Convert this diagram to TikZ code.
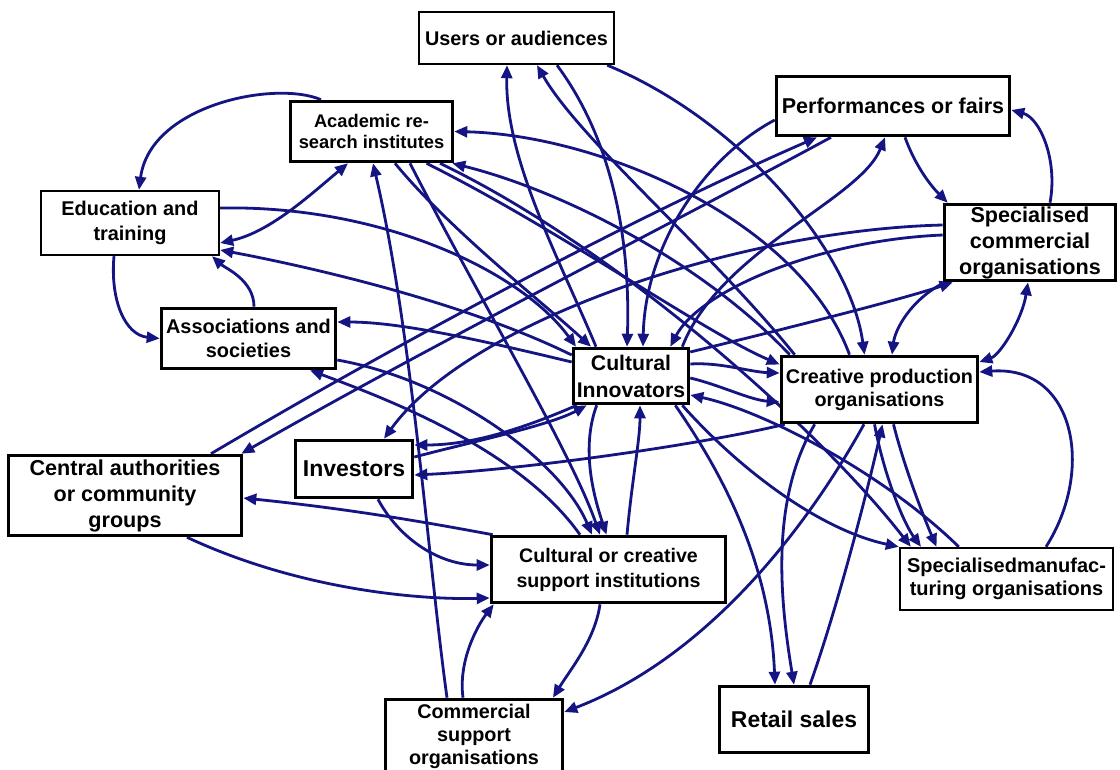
\documentclass[tikz,border=0pt]{standalone}
\usepackage{fontspec}
\setmainfont{Liberation Sans}
\usetikzlibrary{arrows.meta}
\definecolor{navy}{RGB}{20,20,130}
\pgfdeclarelayer{back}
\pgfdeclarelayer{bg}
\pgfsetlayers{back,bg,main}
\begin{document}
\begin{tikzpicture}[x=1pt,y=-1pt,
 box/.style={draw=black, fill=white, line width=2.4pt, align=center, inner sep=0pt},
 tbox/.style={box, line width=3.6pt},
 arr/.style={draw=navy, line width=2.8pt, -{Triangle[length=13pt,width=11pt]}},
 darr/.style={arr, {Triangle[length=13pt,width=11pt]}-{Triangle[length=13pt,width=11pt]}},
]
\useasboundingbox (0,0) rectangle (1120,769);
\begin{pgfonlayer}{back}
\fill[white] (0,0) rectangle (1120,769);
\end{pgfonlayer}

% nodes
\node[box, minimum width=195pt, minimum height=52pt, font=\fontsize{19.8}{24}\selectfont\bfseries] (users) at (516.5,38) {Users or audiences};
\node[tbox, minimum width=162pt, minimum height=60pt, font=\fontsize{18.3}{20.5}\selectfont\bfseries] (acad) at (371.5,131.5) {Academic re-\\search institutes};
\node[tbox, minimum width=233pt, minimum height=59pt, font=\fontsize{21.5}{26}\selectfont\bfseries] (perf) at (893,106) {Performances or fairs};
\node[box, minimum width=178pt, minimum height=64pt, font=\fontsize{19.9}{25}\selectfont\bfseries] (edu) at (130,223) {Education and\\training};
\node[tbox, minimum width=171pt, minimum height=76pt, font=\fontsize{21.6}{26}\selectfont\bfseries] (spc) at (1030,242.5) {Specialised\\commercial\\organisations};
\node[tbox, minimum width=174pt, minimum height=60pt, font=\fontsize{19.9}{24}\selectfont\bfseries] (assoc) at (248.5,338.5) {Associations and\\societies};
\node[tbox, minimum width=115pt, minimum height=55pt, font=\fontsize{21.2}{27}\selectfont\bfseries] (ci) at (631,376) {Cultural\\Innovators};
\node[tbox, minimum width=196pt, minimum height=66pt, font=\fontsize{19.8}{23}\selectfont\bfseries] (cp) at (879.5,389.5) {Creative production\\organisations};
\node[tbox, minimum width=233pt, minimum height=80pt, font=\fontsize{21.6}{26}\selectfont\bfseries] (central) at (125,495.5) {Central authorities\\or community\\groups};
\node[tbox, minimum width=117pt, minimum height=57pt, font=\fontsize{23}{27}\selectfont\bfseries] (inv) at (354,469) {Investors};
\node[tbox, minimum width=234pt, minimum height=66pt, font=\fontsize{19.6}{25}\selectfont\bfseries] (cs) at (608.5,569.5) {Cultural or creative\\support institutions};
\node[box, minimum width=213pt, minimum height=62pt, font=\fontsize{20}{23}\selectfont\bfseries] (smf) at (1006.5,579) {Specialisedmanufac-\\turing organisations};
\node[tbox, minimum width=149pt, minimum height=66pt, font=\fontsize{22.9}{27}\selectfont\bfseries] (retail) at (794,719.5) {Retail sales};
\node[tbox, minimum width=177pt, minimum height=73pt, font=\fontsize{19.8}{23}\selectfont\bfseries] (com) at (474,736) {Commercial\\support\\organisations};

\begin{pgfonlayer}{bg}
\draw[arr] ([xshift=-50.5pt]acad.north) .. controls (275,80) and (150,105) .. ([xshift=9pt]edu.north);
\draw[arr] ([xshift=-16pt]edu.south) .. controls (110,300) and (125,335) .. (assoc.west);
\draw[arr] ([xshift=5.5pt]assoc.north) .. controls (254,280) and (225,268) .. ([xshift=82pt]edu.south);
\draw[darr] ([xshift=-23.5pt]acad.south) .. controls (310,195) and (270,232) .. ([yshift=-20pt]edu.east);
\draw[arr] ([yshift=15pt]edu.east) .. controls (380,205) and (520,270) .. ([xshift=-55pt]ci.north);
\draw[arr] ([yshift=21pt]ci.west) .. controls (460,300) and (300,265) .. ([yshift=-27pt]edu.east);
\draw[arr] ([yshift=14pt]ci.west) .. controls (480,340) and (400,322) .. ([yshift=16.5pt]assoc.east);
\draw[arr] ([xshift=-28.5pt]cs.north) .. controls (520,450) and (390,400) .. ([xshift=61.5pt]assoc.south);
\draw[arr] ([yshift=-21.5pt]assoc.east) .. controls (450,380) and (560,460) .. ([xshift=-16.5pt]cs.north);
\draw[arr] ([xshift=23.5pt]acad.south) .. controls (450,230) and (540,300) .. ([xshift=-40pt]ci.north);
\draw[arr] ([xshift=38.5pt]acad.south) .. controls (480,300) and (570,450) .. ([xshift=-8.5pt]cs.north);
\draw[arr] ([xshift=68.5pt]acad.south) .. controls (620,250) and (820,430) .. ([xshift=12pt]smf.north west);
\draw[arr] ([xshift=55pt]acad.south) .. controls (560,230) and (700,330) .. ([yshift=25pt]cp.west);
\draw[arr] ([xshift=-30pt]cp.north) .. controls (800,220) and (600,135) .. (acad.east);
\draw[arr] ([xshift=10pt]cp.north west) .. controls (700,260) and (560,190) .. ([xshift=-2pt]acad.south east);
\draw[arr] ([xshift=-27pt]com.north) .. controls (428,560) and (412,330) .. ([xshift=1.5pt]acad.south);
\draw[arr] ([xshift=-35pt]ci.north) .. controls (560,260) and (505,160) .. ([xshift=-9.5pt]users.south);
\draw[arr] ([xshift=15pt]cp.north west) .. controls (710,250) and (580,140) .. ([xshift=20.5pt]users.south);
\draw[arr] ([xshift=40.5pt]users.south) .. controls (620,150) and (630,260) .. ([xshift=-4pt]ci.north);
\draw[arr] ([xshift=-8pt]users.south east) .. controls (740,120) and (850,250) .. ([xshift=-15pt]cp.north);
\draw[arr] ([yshift=-14pt]perf.west) .. controls (700,160) and (645,250) .. ([xshift=12pt]ci.north);
\draw[arr] ([xshift=86pt]central.north) .. controls (420,330) and (650,210) .. ([xshift=-76pt]perf.south);
\draw[arr] ([xshift=-62pt]perf.south) .. controls (660,230) and (440,340) .. ([xshift=-2pt]central.north east);
\draw[arr] ([yshift=17.5pt]spc.west) .. controls (740,230) and (470,320) .. ([xshift=30pt]inv.north);
\draw[arr] ([yshift=7.5pt]spc.west) .. controls (820,240) and (700,290) .. ([xshift=-20pt]ci.north east);
\draw[arr] ([xshift=-8pt]ci.north east) .. controls (720,250) and (860,200) .. ([xshift=-8pt]perf.south);
\draw[arr] ([xshift=12pt]perf.south) .. controls (915,165) and (930,185) .. ([xshift=5pt]spc.north west);
\draw[arr] ([xshift=20pt]spc.north) .. controls (1058,160) and (1040,118) .. ([yshift=-4pt]perf.east);
\draw[arr] ([xshift=2pt]spc.south west) .. controls (910,300) and (895,330) .. ([xshift=12.5pt]cp.north);
\draw[arr] ([yshift=24pt]ci.east) .. controls (780,330) and (900,300) .. ([xshift=10pt]spc.south west);
\draw[darr] ([xshift=-2pt]spc.south) .. controls (1022,320) and (1000,355) .. ([yshift=27.5pt]cp.east);
\draw[arr] ([xshift=39.5pt]smf.north) .. controls (1095,470) and (1075,365) .. ([yshift=17.5pt]cp.east);
\draw[arr] ([yshift=12pt]ci.east) .. controls (720,362) and (750,372) .. ([yshift=16.5pt]cp.west);
\draw[arr] ([yshift=-2pt]ci.east) .. controls (720,385) and (750,400) .. ([yshift=-12.5pt]cp.west);
\draw[arr] ([xshift=60pt]smf.north west) .. controls (880,470) and (760,410) .. ([yshift=-19pt]ci.east);
\draw[arr] ([xshift=-8pt]ci.south east) .. controls (740,470) and (820,530) .. (smf.north west);
\draw[arr] ([xshift=-5pt]cp.south) .. controls (885,480) and (905,525) .. ([xshift=-85.5pt]smf.north);
\draw[arr] ([xshift=14pt]cp.south) .. controls (905,470) and (925,520) .. ([xshift=-70pt]smf.north);
\draw[arr] ([xshift=16pt]retail.north) .. controls (840,600) and (870,480) .. ([xshift=3pt]cp.south);
\draw[arr] ([xshift=-15pt]ci.south east) .. controls (720,470) and (770,560) .. ([xshift=-19pt]retail.north);
\draw[arr] ([xshift=35pt]cp.south west) .. controls (770,500) and (780,600) .. (retail.north);
\draw[arr] ([xshift=-15.5pt]cp.south) .. controls (800,540) and (700,660) .. ([yshift=24pt]com.east);
\draw[arr] ([xshift=-8.5pt]cs.south) .. controls (595,640) and (570,670) .. ([xshift=79pt]com.north);
\draw[arr] ([xshift=-11pt]com.north) .. controls (458,660) and (478,625) .. ([xshift=4pt]cs.south west);
\draw[arr] ([xshift=5pt]cp.south west) .. controls (700,445) and (520,470) .. ([yshift=-6pt]inv.east);
\draw[arr] ([xshift=5pt]ci.south west) .. controls (520,430) and (470,445) .. ([yshift=24pt]inv.east);
\draw[arr] ([xshift=24pt]inv.south) .. controls (400,540) and (440,565) .. ([yshift=4.5pt]cs.west);
\draw[arr] ([xshift=62pt]central.south) .. controls (300,590) and (420,600) .. ([yshift=-28.5pt]cs.west);
\draw[arr] ([xshift=3pt]cs.north west) .. controls (440,525) and (360,510) .. ([yshift=-2.5pt]central.east);
\draw[arr] ([xshift=18.5pt]cs.north) .. controls (632,480) and (640,440) .. ([xshift=9pt]ci.south);
\draw[arr] ([yshift=12pt]inv.east) .. controls (480,440) and (550,425) .. ([xshift=15pt]ci.south west);
\draw[arr] ([xshift=25pt]ci.south west) .. controls (580,450) and (595,500) .. ([xshift=-2pt]cs.north);
\end{pgfonlayer}
\end{tikzpicture}
\end{document}
